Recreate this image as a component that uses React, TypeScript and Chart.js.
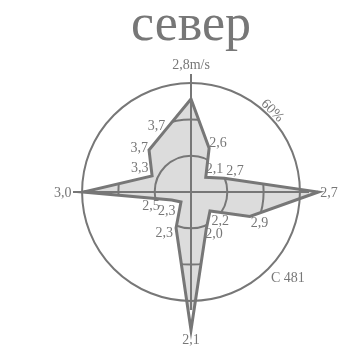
import React, { useEffect, useRef } from 'react';
import { Chart, registerables } from 'chart.js';

Chart.register(...registerables);

// ---- data ----
const TITLE = 'север';
const DIRECTIONS = ['N', 'NNE', 'NE', 'ENE', 'E', 'ESE', 'SE', 'SSE', 'S', 'SSW', 'SW', 'WSW', 'W', 'WNW', 'NW', 'NNW'];
const FREQUENCY = [51.2, 26.1, 11.5, 19.8, 70.1, 35.1, 14.8, 22.0, 76.0, 21.5, 7.8, 11.5, 59.3, 23.2, 32.7, 36.9];
const SPEED_LABELS = ['2,8m/s', '2,6', '2,1', '2,7', '2,7', '2,9', '2,2', '2,0', '2,1', '2,3', '2,3', '2,5', '3,0', '3,3', '3,7', '3,7'];
const INNER_RINGS = [20, 40];
const OUTER_RING = 60;
const OUTER_RING_LABEL = '60%';
const CALM_LABEL = 'C 481';
const SCALE_MAX = 65;

// ---- style ----
const GRAY = '#777777';
const FILL = '#dcdcdc';
const FONT = '"Liberation Serif", "Times New Roman", serif';

// label placement relative to its anchor point: [align, dx, dy(baseline)]
const LABEL_OFFSETS: [CanvasTextAlign, number, number][] = [
  ['center', 0, -5.5],
  ['left', 0, -1.5],
  ['left', 0, -4],
  ['left', 2, -3],
  ['left', 2, 4.5],
  ['left', 1, 10.5],
  ['left', 1.5, 14],
  ['left', -1, 9.5],
  ['center', 0, 14],
  ['right', -3, 8.5],
  ['right', -5.5, 13],
  ['right', -12, 10],
  ['right', -1.5, 4.5],
  ['right', -3.5, -3.7],
  ['right', -1, 2],
  ['right', 0, 0],
];

const roseDecor = {
  id: 'roseDecor',
  afterDatasetsDraw(chart: any) {
    const scale = chart.scales.r;
    const meta = chart.getDatasetMeta(0);
    const ctx = chart.ctx as CanvasRenderingContext2D;
    ctx.save();
    ctx.beginPath();
    meta.data.forEach((p: any, i: number) => (i ? ctx.lineTo(p.x, p.y) : ctx.moveTo(p.x, p.y)));
    ctx.closePath();
    ctx.clip();
    ctx.strokeStyle = GRAY;
    ctx.lineWidth = 2;
    INNER_RINGS.forEach((v) => {
      const r = scale.getDistanceFromCenterForValue(v);
      ctx.beginPath();
      ctx.arc(scale.xCenter, scale.yCenter, r, 0, Math.PI * 2);
      ctx.stroke();
    });
    ctx.restore();
  },
  afterDraw(chart: any) {
    const scale = chart.scales.r;
    const ctx = chart.ctx as CanvasRenderingContext2D;
    ctx.save();
    ctx.fillStyle = GRAY;
    ctx.textBaseline = 'alphabetic';

    // title
    ctx.font = `52px ${FONT}`;
    ctx.textAlign = 'center';
    ctx.fillText(TITLE, scale.xCenter, 40);

    // speed labels
    ctx.font = `14px ${FONT}`;
    FREQUENCY.forEach((v, i) => {
      let d = scale.getDistanceFromCenterForValue(v);
      if (i % 4 === 0) d = Math.max(d, scale.drawingArea);
      const p = scale.getPointPosition(i, d);
      const [align, dx, dy] = LABEL_OFFSETS[i];
      ctx.textAlign = align;
      ctx.fillText(SPEED_LABELS[i], p.x + dx, p.y + dy);
    });

    // ring label
    const rp = scale.getPointPosition(2, scale.getDistanceFromCenterForValue(OUTER_RING) + 6);
    ctx.save();
    ctx.translate(rp.x, rp.y);
    ctx.rotate(Math.PI / 4);
    ctx.textAlign = 'center';
    ctx.textBaseline = 'middle';
    ctx.fillText(OUTER_RING_LABEL, 0, 0);
    ctx.restore();

    // calm label
    ctx.textAlign = 'left';
    ctx.fillText(CALM_LABEL, scale.xCenter + 80, scale.yCenter + 90);
    ctx.restore();
  },
};

export default function App() {
  const ref = useRef<HTMLCanvasElement | null>(null);
  useEffect(() => {
    if (!ref.current) return;
    const chart = new Chart(ref.current, {
      type: 'radar',
      data: {
        labels: DIRECTIONS,
        datasets: [
          {
            data: FREQUENCY,
            backgroundColor: FILL,
            borderColor: GRAY,
            borderWidth: 3,
            borderJoinStyle: 'miter',
            fill: true,
            tension: 0,
            pointRadius: 0,
            pointHoverRadius: 0,
            clip: false,
          } as any,
        ],
      },
      options: {
        responsive: false,
        animation: false,
        events: [],
        layout: { padding: { left: 73, right: 55, top: 74, bottom: 50 } },
        plugins: { legend: { display: false }, title: { display: false }, tooltip: { enabled: false } },
        scales: {
          r: {
            min: 0,
            max: SCALE_MAX,
            ticks: { display: false, stepSize: 20 },
            pointLabels: { display: false },
            grid: {
              circular: true,
              z: 1,
              lineWidth: 2,
              color: (c: any) => (c.tick && Math.abs(c.tick.value - OUTER_RING) < 0.01 ? GRAY : 'rgba(0,0,0,0)'),
            },
            angleLines: {
              display: true,
              lineWidth: 2,
              color: (c: any) => (c.index % 4 === 0 ? GRAY : 'rgba(0,0,0,0)'),
            },
          } as any,
        },
      },
      plugins: [roseDecor],
    });
    return () => chart.destroy();
  }, []);
  return (
    <div style={{ position: 'fixed', left: 0, top: 0, width: 364, height: 360, background: '#fff' }}>
      <canvas ref={ref} width={364} height={360} style={{ display: 'block' }} />
    </div>
  );
}
